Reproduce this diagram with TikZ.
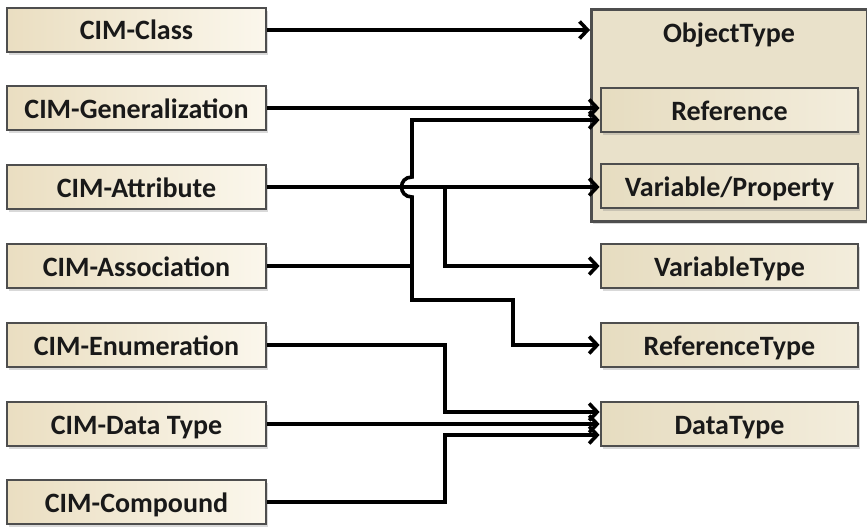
\documentclass[tikz,border=0pt]{standalone}
\usepackage{fontspec}
\setmainfont{Carlito}
\usetikzlibrary{arrows.meta,shadows,calc}
\definecolor{boxborder}{HTML}{4E4E4E}
\definecolor{boxleft}{HTML}{EADEC1}
\definecolor{boxright}{HTML}{FBF7EC}
\definecolor{rleft}{HTML}{E6DCC0}
\definecolor{rright}{HTML}{F3EDDC}
\definecolor{otfill}{HTML}{E9E1CA}
\tikzset{
  cimbox/.style={draw=boxborder, line width=2.8pt, left color=boxleft, right color=boxright,
    minimum width=259pt, minimum height=44pt, inner sep=0pt, text=black!90,
    text height=20pt, text depth=0pt,
    font=\fontsize{28}{30}\selectfont\bfseries,
    drop shadow={opacity=0.3, shadow xshift=2pt, shadow yshift=-3pt}},
  uabox/.style={cimbox, minimum width=257pt, left color=rleft, right color=rright},
  otbox/.style={draw=boxborder, line width=2.8pt, fill=otfill, inner sep=0pt,
    drop shadow={opacity=0.3, shadow xshift=2pt, shadow yshift=-3pt}},
  conn/.style={line width=3.6pt, line join=miter, -{Straight Barb[length=8pt,width=17pt,line width=3.6pt]}},
  plain/.style={line width=3.6pt, line join=miter}
}
\begin{document}
\begin{tikzpicture}[x=1pt,y=-1pt]
\useasboundingbox (0,0) rectangle (867,527);
% ObjectType container
\node[otbox, minimum width=276pt, minimum height=212pt, anchor=north west] (ot) at (590,8) {};
\node[font=\fontsize{28}{30}\selectfont\bfseries, text=black!90, text height=20pt, text depth=0pt] (otlabel) at (729,33) {ObjectType};
% right boxes
\node[uabox] (ref) at (729.5,110) {Reference};
\node[uabox] (var) at (729.5,186) {Variable/Property};
\node[uabox] (vtype) at (729.5,266) {VariableType};
\node[uabox] (rtype) at (729.5,345) {ReferenceType};
\node[uabox] (dtype) at (729.5,424) {DataType};
% left boxes
\node[cimbox] (cls) at (136.5,30) {CIM-Class};
\node[cimbox] (gen) at (136.5,108) {CIM-Generalization};
\node[cimbox] (attr) at (136.5,187) {CIM-Attribute};
\node[cimbox] (assoc) at (136.5,266) {CIM-Association};
\node[cimbox] (enum) at (136.5,345) {CIM-Enumeration};
\node[cimbox] (dt) at (136.5,424) {CIM-Data Type};
\node[cimbox] (comp) at (136.5,502) {CIM-Compound};
% junction coordinates
\coordinate (a1) at (412,266);
\coordinate (a2) at (412,300);
\coordinate (a3) at (513,300);
\coordinate (b1) at (445,187);
\coordinate (e1) at (445,345);
\coordinate (c1) at (445,502);
% connectors
\draw[conn] (cls.east) -- (ot.west |- cls.east);
\draw[conn] (gen.east) -- (ref.west |- gen.east);
\draw[conn] (attr.east) -- (var.west |- attr.east);
\draw[conn] (b1) |- (vtype.west);
\draw[plain] (assoc.east) -- (a1);
\draw[conn] (a1) -- (412,197) .. controls (398,197) and (398,177) .. (412,177) -- (412,120) -- ($(ref.west)+(0,10)$);
\draw[conn] (a1) -- (a2) -- (a3) |- (rtype.west);
\draw[conn] (enum.east) -- (e1) -- (445,412) -- ($(dtype.west)+(0,-12)$);
\draw[conn] (dt.east) -- (dtype.west);
\draw[conn] (comp.east) -- (c1) -- (445,435) -- ($(dtype.west)+(0,11)$);
\end{tikzpicture}
\end{document}
